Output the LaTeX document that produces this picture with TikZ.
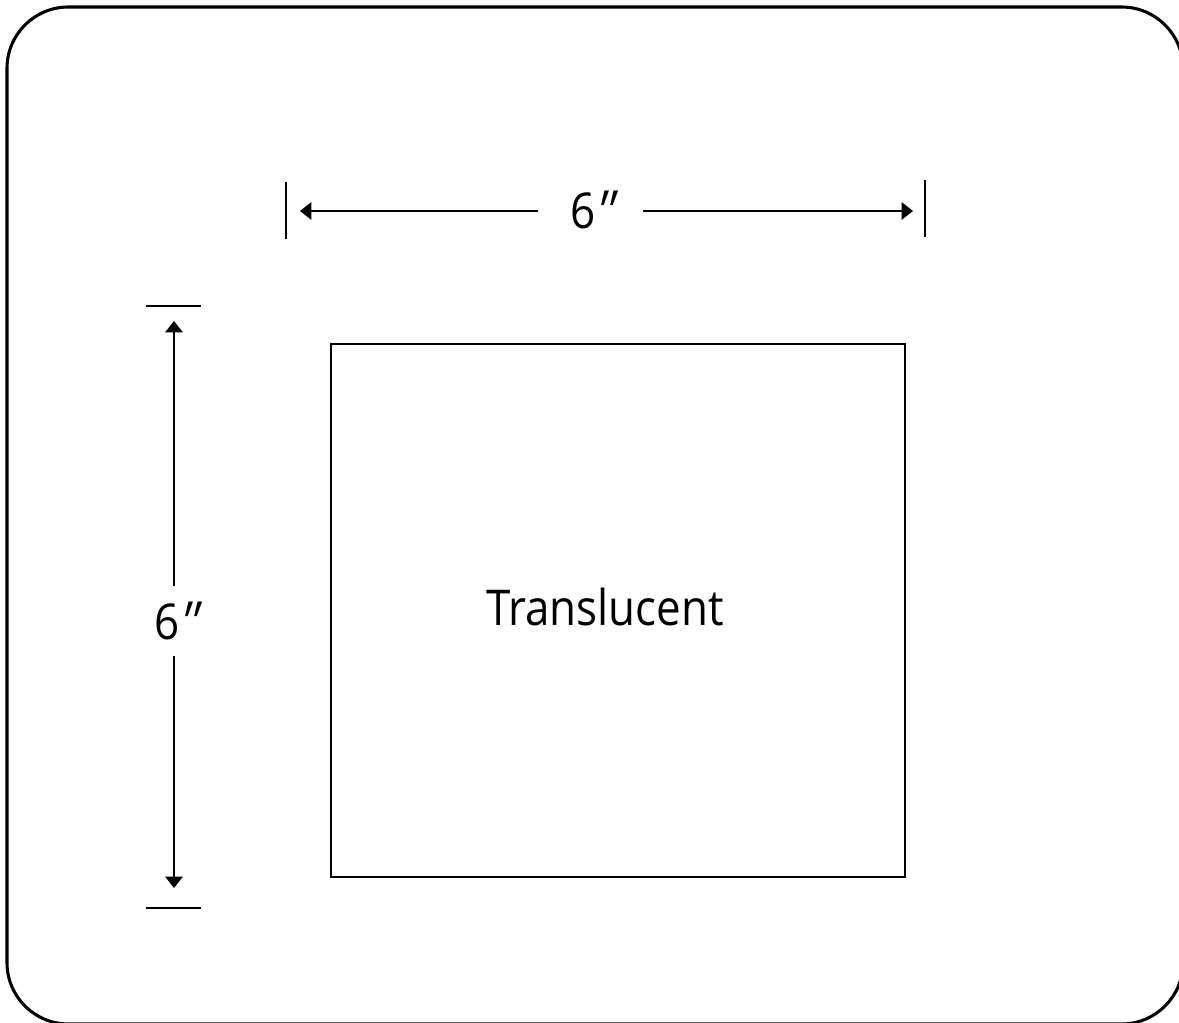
\documentclass[tikz,border=0pt]{standalone}
\usepackage{fontspec}
\setmainfont[FakeStretch=0.89]{Open Sans}
\newfontfamily\slfont[FakeSlant=0.3,FakeStretch=0.89]{Open Sans}
\newcommand{\dprime}{\kern-0.14em{\slfont\raisebox{-0.06em}{\scalebox{1.15}{″}}}}
\usetikzlibrary{arrows.meta}
\begin{document}
\begin{tikzpicture}[x=0.75pt,y=-0.75pt,
  ln/.style={line width=1.9pt,black},
  dim/.style={line width=1.5pt,black},
  tip/.style={-{Triangle[length=8.5pt,width=13pt]}},
  lbl/.style={font=\fontsize{37}{40}\selectfont,inner sep=0pt}]
\useasboundingbox (0,0) rectangle (1179,1023);
\draw[line width=2.3pt,rounded corners=46] (7,7) rectangle (1183,1024);
% horizontal dimension
\node[lbl] (htext) at (590,211) {6\dprime};
\coordinate (hl) at (300,211);
\coordinate (hr) at (913,211);
\coordinate (hlg) at (538,211);
\coordinate (hrg) at (643,211);
\draw[dim,tip] (hlg) -- (hl);
\draw[dim,tip] (hrg) -- (hr);
\coordinate (tl1) at (286,182); \coordinate (tl2) at (286,239);
\coordinate (tr1) at (925,180); \coordinate (tr2) at (925,237);
\draw[dim] (tl1) -- (tl2);
\draw[dim] (tr1) -- (tr2);
% vertical dimension
\node[lbl] (vtext) at (174,622) {6\dprime};
\coordinate (vt) at (174,321);
\coordinate (vb) at (174,888);
\coordinate (vtg) at (174,586);
\coordinate (vbg) at (174,656);
\draw[dim,tip] (vtg) -- (vt);
\draw[dim,tip] (vbg) -- (vb);
\coordinate (tt1) at (146,306); \coordinate (tt2) at (201,306);
\coordinate (tb1) at (146,908); \coordinate (tb2) at (201,908);
\draw[dim] (tt1) -- (tt2);
\draw[dim] (tb1) -- (tb2);
% square
\draw[ln] (331,344) rectangle (905,877);
\node[lbl] (trans) at (605,607) {Translucent};
\end{tikzpicture}
\end{document}
